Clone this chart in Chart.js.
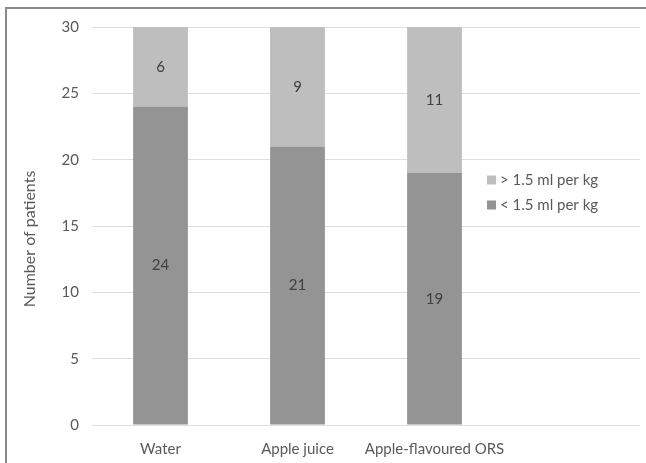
<!DOCTYPE html>
<html>
<head>
<meta charset="utf-8">
<script src="https://cdn.jsdelivr.net/npm/chart.js@4/dist/chart.umd.min.js"></script>
<style>
  html, body { margin: 0; padding: 0; background: #fff; }
  #wrap { position: relative; width: 646px; height: 463px; overflow: hidden; }
  #frame { position: absolute; left: 5px; top: 7px; right: -4px; bottom: -4px;
           border-left: 2px solid #8a8a8a; border-top: 2px solid #8a8a8a; pointer-events: none; }
  canvas { position: absolute; left: 0; top: 0; }
</style>
</head>
<body>
<div id="wrap">
  <canvas id="c" width="646" height="463"></canvas>
  <div id="frame"></div>
</div>
<script>
// Drinks offered, plus an empty slot to the right that holds the legend
const categories = ['Water', 'Apple juice', 'Apple-flavoured ORS', ''];
const belowThreshold = [24, 21, 19, null];   // < 1.5 ml per kg
const aboveThreshold = [6, 9, 11, null];     // > 1.5 ml per kg
const seriesNames = ['< 1.5 ml per kg', '> 1.5 ml per kg'];
const yTicks = [0, 5, 10, 15, 20, 25, 30];
const yTitle = 'Number of patients';

const FONT = "Lato, sans-serif";

// Value labels centred in each stacked segment
const segmentLabels = {
  id: 'segmentLabels',
  afterDatasetsDraw(chart) {
    const ctx = chart.ctx;
    ctx.save();
    ctx.font = '15px ' + FONT;
    ctx.fillStyle = '#404040';
    ctx.textAlign = 'center';
    ctx.textBaseline = 'middle';
    chart.data.datasets.forEach((ds, i) => {
      chart.getDatasetMeta(i).data.forEach((bar, j) => {
        const v = ds.data[j];
        if (v == null) return;
        ctx.fillText(String(v), bar.x, (bar.y + bar.base) / 2);
      });
    });
    ctx.restore();
  }
};

// Legend over the empty right-hand slot (top series first) and the vertical axis title
const sideLegend = {
  id: 'sideLegend',
  afterDraw(chart) {
    const ctx = chart.ctx;
    ctx.save();
    ctx.font = '15px ' + FONT;
    ctx.textBaseline = 'middle';
    ctx.textAlign = 'left';
    const x = 487;
    const order = chart.data.datasets.map((d, i) => i).reverse();
    order.forEach((i, row) => {
      const ds = chart.data.datasets[i];
      const cy = 180 + row * 25;
      ctx.fillStyle = ds.backgroundColor;
      ctx.fillRect(x, cy - 4.5, 9, 9);
      ctx.fillStyle = '#595959';
      ctx.fillText(ds.label, x + 13, cy);
    });

    ctx.translate(30, 239);
    ctx.rotate(-Math.PI / 2);
    ctx.font = '16px ' + FONT;
    ctx.textAlign = 'center';
    ctx.fillStyle = '#595959';
    ctx.fillText(yTitle, 0, 0);
    ctx.restore();
  }
};

new Chart(document.getElementById('c'), {
  type: 'bar',
  data: {
    labels: categories,
    datasets: [
      { label: seriesNames[0], data: belowThreshold, backgroundColor: '#949494' },
      { label: seriesNames[1], data: aboveThreshold, backgroundColor: '#bebebe' }
    ]
  },
  options: {
    responsive: false,
    animation: false,
    events: [],
    layout: { padding: { left: 0, top: 27, right: 6, bottom: 0 } },
    plugins: { legend: { display: false }, tooltip: { enabled: false } },
    datasets: { bar: { categoryPercentage: 1, barPercentage: 0.4 } },
    scales: {
      x: {
        stacked: true,
        grid: { display: false, drawTicks: false },
        border: { display: false },
        ticks: { color: '#595959', font: { family: FONT, size: 15 }, padding: 15, maxRotation: 0, autoSkip: false },
        afterFit(s) { s.height = 38; }
      },
      y: {
        stacked: true,
        min: 0,
        max: 30,
        afterBuildTicks(s) { s.ticks = yTicks.map(v => ({ value: v })); },
        grid: { color: '#dedede', lineWidth: 1, drawTicks: false },
        border: { display: false },
        ticks: { color: '#595959', font: { family: FONT, size: 15 }, padding: 13 },
        afterFit(s) { s.width = 92; }
      }
    }
  },
  plugins: [segmentLabels, sideLegend]
});
</script>
</body>
</html>
